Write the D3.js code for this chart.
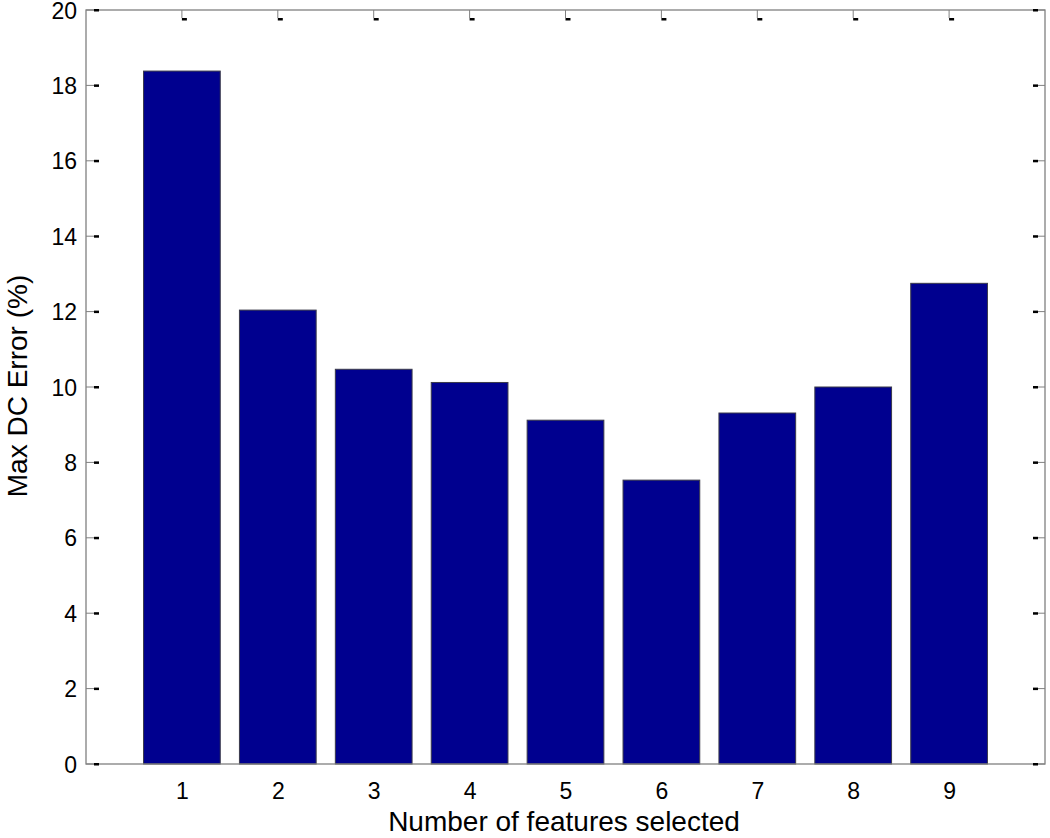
<!DOCTYPE html>
<html><head><meta charset="utf-8">
<script src="https://cdn.jsdelivr.net/npm/d3@7"></script>
<style>body{margin:0;background:#fff}svg{display:block}text{font-family:"Liberation Sans",Arial,sans-serif;fill:#000}</style>
</head><body>
<script>
const categories = [1,2,3,4,5,6,7,8,9];
const values = [18.38, 12.04, 10.47, 10.12, 9.12, 7.53, 9.31, 10.0, 12.75];
const yTicks = [0,2,4,6,8,10,12,14,16,18,20];
const xLabel = "Number of features selected";
const yLabel = "Max DC Error (%)";

const W = 1050, H = 838;
const L = 86, R = 1045, T = 10, B = 764;
const svg = d3.select("body").append("svg").attr("width", W).attr("height", H);
const x = d3.scaleLinear().domain([0,10]).range([L,R]);
const y = d3.scaleLinear().domain([0,20]).range([B,T]);
const bw = 0.8;

// bars
svg.append("g").selectAll("rect").data(categories).join("rect")
  .attr("x", (d) => x(d - bw/2)).attr("width", (d) => x(d + bw/2) - x(d - bw/2))
  .attr("y", (d,i) => y(values[i])).attr("height", (d,i) => y(0) - y(values[i]))
  .attr("fill", "#00008f").attr("stroke", "#3a3a4a").attr("stroke-width", 1);

// frame
const frame = svg.append("g").attr("stroke", "#808080").attr("stroke-width", 1.3).attr("fill", "none");
frame.append("rect").attr("x", L).attr("y", T).attr("width", R-L).attr("height", B-T);

// left y axis via d3 axis
const gl = svg.append("g").attr("transform", `translate(${L},0)`)
  .call(d3.axisLeft(y).tickValues(yTicks).tickSize(0).tickPadding(9));
gl.select(".domain").remove();
gl.selectAll("text").attr("font-size", 23).attr("dy", "0.35em");

// y ticks left & right (gray stub + black dash)
const yt = svg.append("g");
yTicks.forEach(v => {
  const yy = y(v);
  yt.append("line").attr("x1", L).attr("x2", L+8).attr("y1", yy).attr("y2", yy).attr("stroke", "#808080");
  yt.append("rect").attr("x", L+8).attr("y", yy-1).attr("width", 5).attr("height", 2.5).attr("fill", "#000");
  yt.append("line").attr("x1", R).attr("x2", R-7).attr("y1", yy).attr("y2", yy).attr("stroke", "#808080");
  yt.append("rect").attr("x", R-12).attr("y", yy-1).attr("width", 5).attr("height", 2.5).attr("fill", "#000");
});

// bottom x axis labels
const gb = svg.append("g").attr("transform", `translate(0,${B})`)
  .call(d3.axisBottom(x).tickValues(categories).tickSize(0).tickPadding(19).tickFormat(d3.format("d")));
gb.select(".domain").remove();
gb.selectAll("text").attr("font-size", 23);

// top x ticks
categories.forEach(c => {
  const xx = x(c);
  yt.append("line").attr("x1", xx).attr("x2", xx).attr("y1", T).attr("y2", T+8).attr("stroke", "#808080");
  yt.append("rect").attr("x", xx).attr("y", T+8).attr("width", 5).attr("height", 2.5).attr("fill", "#000");
});

// axis titles
svg.append("text").attr("x", 564).attr("y", 831).attr("text-anchor", "middle")
  .attr("font-size", 28).text(xLabel);
svg.append("text").attr("transform", `translate(27,386) rotate(-90)`).attr("text-anchor", "middle")
  .attr("font-size", 28).text(yLabel);
</script>
</body></html>
